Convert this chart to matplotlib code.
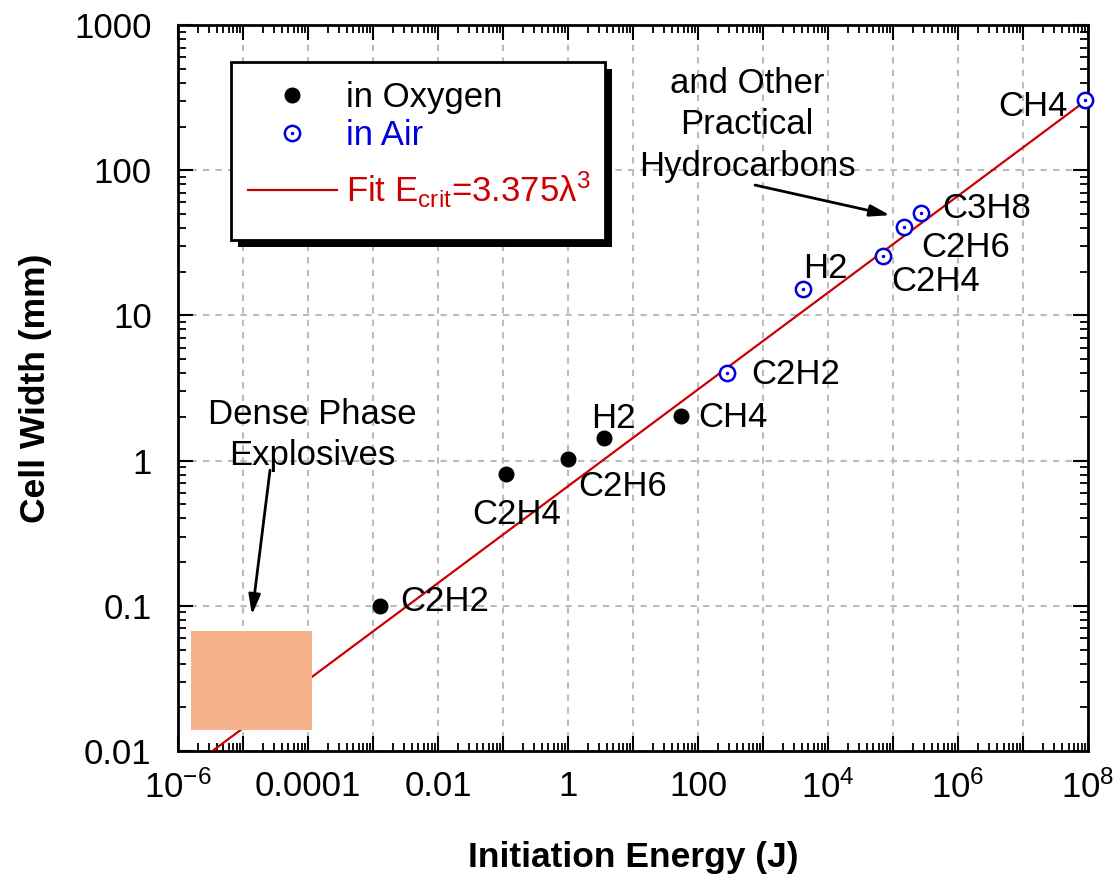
import numpy as np
import matplotlib
matplotlib.use("Agg")
import matplotlib.pyplot as plt
from matplotlib.patches import Rectangle
from matplotlib.transforms import offset_copy
from matplotlib.ticker import FixedLocator, FixedFormatter, LogLocator, NullFormatter
from matplotlib.legend_handler import HandlerTuple

plt.rcParams['font.family'] = ['Liberation Sans', 'DejaVu Sans']
plt.rcParams['mathtext.fontset'] = 'custom'
plt.rcParams['mathtext.rm'] = 'Liberation Sans'
plt.rcParams['mathtext.it'] = 'Liberation Sans:italic'
plt.rcParams['mathtext.bf'] = 'Liberation Sans:bold'

# =========================
# DATA
# =========================
oxy_names = ["C2H2", "C2H4", "C2H6", "H2", "CH4"]
oxy_energy = [0.0013, 0.11, 1.0, 3.6, 55.0]
oxy_width = [0.10, 0.81, 1.03, 1.43, 2.03]
oxy_offsets = [(20, 4), (11, -41), (10, -28), (-13, 20), (17, -2)]
oxy_ha = ["left", "center", "left", "left", "left"]

air_names = ["C2H2", "H2", "C2H4", "C2H6", "C3H8", "CH4"]
air_energy = [280.0, 4100.0, 7.0e4, 1.48e5, 2.7e5, 9.0e7]
air_width = [4.0, 15.2, 25.7, 40.6, 50.7, 304.0]
air_offsets = [(24, -1), (0, 21), (8, -26), (17, -20), (21, 5), (-17, -6)]
air_ha = ["left", "left", "left", "left", "left", "right"]

fit_coef = 3.375
fit_width = np.logspace(-2, np.log10(310), 200)

dense_energy = [1.6e-6, 1.15e-4]
dense_width = [0.014, 0.067]

x_ticks = [1e-6, 1e-5, 1e-4, 1e-3, 1e-2, 1e-1, 1, 10, 100, 1e3, 1e4, 1e5, 1e6, 1e7, 1e8]
x_labels = [r"$\mathregular{10^{-6}}$", "", "0.0001", "", "0.01", "", "1", "", "100", "",
            r"$\mathregular{10^{4}}$", "", r"$\mathregular{10^{6}}$", "", r"$\mathregular{10^{8}}$"]
y_ticks = [0.01, 0.1, 1, 10, 100, 1000]
y_labels = ["0.01", "0.1", "1", "10", "100", "1000"]

FS = 25
RED = "#CC0000"
BLUE = "#0000DD"

# =========================
# FIGURE
# =========================
fig = plt.figure(figsize=(11.17, 8.75), dpi=100)
ax = fig.add_axes([0.1594, 0.1417, 0.8147, 0.8297])
ax.set_xscale("log")
ax.set_yscale("log")
ax.set_xlim(1e-6, 1e8)
ax.set_ylim(0.01, 1000)

ax.grid(True, which="major", color="#BBBBBB", linestyle=(0, (3, 3)), linewidth=1.5)
ax.set_axisbelow(True)

fit_line, = ax.plot(fit_coef * fit_width ** 3, fit_width, color=RED, lw=1.6, zorder=3)

ax.add_patch(Rectangle((dense_energy[0], dense_width[0]),
                       dense_energy[1] - dense_energy[0], dense_width[1] - dense_width[0],
                       facecolor="#F6B28B", edgecolor="none", zorder=4))

oxy, = ax.plot(oxy_energy, oxy_width, "o", color="black", ms=10.5, mec="black", zorder=5, ls="none")
air_c, = ax.plot(air_energy, air_width, "o", color=BLUE, mfc="white", mec=BLUE, mew=1.8,
                 ms=11, zorder=5, ls="none", clip_on=False)
air_d, = ax.plot(air_energy, air_width, ".", color=BLUE, ms=3, zorder=6, ls="none", clip_on=False)

for n, xv, yv, off, ha in zip(oxy_names, oxy_energy, oxy_width, oxy_offsets, oxy_ha):
    ax.annotate(n, (xv, yv), xytext=off, textcoords="offset pixels", ha=ha, va="center",
                fontsize=FS, zorder=7)
for n, xv, yv, off, ha in zip(air_names, air_energy, air_width, air_offsets, air_ha):
    ax.annotate(n, (xv, yv), xytext=off, textcoords="offset pixels", ha=ha, va="center",
                fontsize=FS, zorder=7)

arrow = dict(arrowstyle="-|>,head_length=1.2,head_width=0.35", color="black", lw=2,
             shrinkA=0, shrinkB=0)
ax.annotate("", xy=(1.37e-5, 0.0865), xytext=(2.6e-5, 0.86), arrowprops=arrow, zorder=7)
ax.text(1.15e-4, 1.5, "Dense Phase\nExplosives", ha="center", va="center", fontsize=FS,
        linespacing=1.32)
ax.annotate("", xy=(9.0e4, 49), xytext=(753, 79), arrowprops=arrow, zorder=7)
ax.text(568, 205, "and Other\nPractical\nHydrocarbons", ha="center", va="center", fontsize=FS,
        linespacing=1.32)

# ticks
ax.xaxis.set_major_locator(FixedLocator(x_ticks))
ax.xaxis.set_major_formatter(FixedFormatter(x_labels))
ax.xaxis.set_minor_locator(LogLocator(base=10, subs=np.arange(2, 10), numticks=30))
ax.xaxis.set_minor_formatter(NullFormatter())
ax.yaxis.set_major_locator(FixedLocator(y_ticks))
ax.yaxis.set_major_formatter(FixedFormatter(y_labels))
ax.yaxis.set_minor_locator(LogLocator(base=10, subs=np.arange(2, 10), numticks=30))
ax.yaxis.set_minor_formatter(NullFormatter())
ax.tick_params(which="both", direction="in", top=True, right=True, labelsize=FS)
ax.tick_params(axis="y", which="major", pad=19)
ax.tick_params(axis="x", which="major", pad=14)
ax.tick_params(which="major", length=11, width=1.5)
ax.tick_params(which="minor", length=6, width=1.3)
for s in ax.spines.values():
    s.set_linewidth(2)

ax.set_xlabel("Initiation Energy (J)", fontsize=FS + 0.5, fontweight="bold", labelpad=26)
ax.set_ylabel("Cell Width (mm)", fontsize=FS + 0.5, fontweight="bold", labelpad=16)

# legend: box with a solid black shadow, entries placed inside
box = (0.0582, 0.7039, 0.411, 0.2452)
ax.add_patch(Rectangle(box[:2], box[2], box[3],
                       transform=offset_copy(ax.transAxes, fig, x=7, y=-7, units="dots"),
                       facecolor="black", edgecolor="none", zorder=9.4, clip_on=False))
ax.add_patch(Rectangle(box[:2], box[2], box[3], transform=ax.transAxes,
                       facecolor="white", edgecolor="black", lw=2, zorder=9.5, clip_on=False))

leg_opts = dict(fontsize=FS, frameon=False, handlelength=2.56, handletextpad=0.26,
                borderpad=0, borderaxespad=0)
leg1 = ax.legend([oxy, (air_c, air_d)], ["in Oxygen", "in Air"],
                 handler_map={tuple: HandlerTuple(ndivide=1, pad=0)},
                 loc="upper left", bbox_to_anchor=(0.0769, 0.9229), labelspacing=0.15,
                 **leg_opts)
leg1.set_zorder(10)
leg1.get_texts()[1].set_color(BLUE)
ax.add_artist(leg1)

leg2 = ax.legend([fit_line], [r"Fit E$_{\mathregular{crit}}$=3.375$\mathregular{\lambda^3}$"],
                 loc="center left", bbox_to_anchor=(0.0769, 0.7727), **leg_opts)
leg2.set_zorder(10)
leg2.get_texts()[0].set_color(RED)

fig.savefig("out.png", dpi=100)
